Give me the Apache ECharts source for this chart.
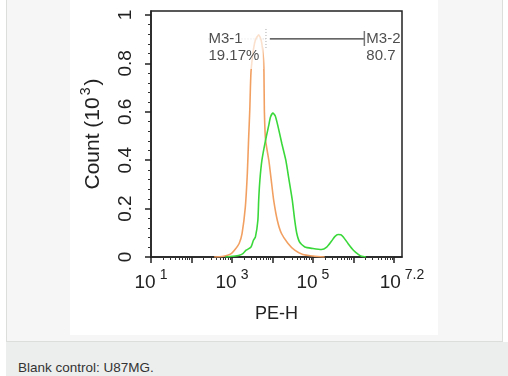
<!DOCTYPE html>
<html>
<head>
<meta charset="utf-8">
<script src="https://cdn.jsdelivr.net/npm/echarts@6/dist/echarts.min.js"></script>
<style>
  body { margin: 0; background: #fff; }
  .page { position: relative; width: 508px; height: 376px; overflow: hidden; font-family: "Liberation Sans", Arial, sans-serif; }
  .panel { position: absolute; left: 6px; top: 0; width: 495px; height: 341px; background: #f5f6f5; border-left: 1px solid #dcdedc; border-right: 1px solid #dcdedc; border-bottom: 1px solid #dcdedc; }
  .caption { position: absolute; left: 6px; top: 342px; right: 0; height: 34px; background: #eceeed; }
  .caption span { position: absolute; left: 12px; top: 18px; font-size: 13.5px; color: #333; }
  #chart { position: absolute; left: 70px; top: 0; width: 368px; height: 335px; background: #fff; }
</style>
</head>
<body>
<div class="page">
  <div class="panel"></div>
  <div id="chart"></div>
  <div class="caption"><span>Blank control: U87MG.</span></div>
</div>
<script>
// x values are log10(PE-H), y values are Count (10^3)
const orangeLog = [2.56, 2.76, 2.89, 2.99, 3.08, 3.18, 3.25, 3.33, 3.38, 3.41, 3.44, 3.47, 3.53, 3.58, 3.66, 3.72, 3.77, 3.79, 3.80, 3.83, 3.91, 3.97, 4.03, 4.12, 4.22, 4.38, 4.55, 4.75, 5.00, 5.29]
const orangeCount = [0, 0.002, 0.007, 0.015, 0.032, 0.057, 0.098, 0.206, 0.347, 0.483, 0.607, 0.765, 0.856, 0.897, 0.918, 0.897, 0.835, 0.765, 0.607, 0.483, 0.400, 0.318, 0.235, 0.152, 0.098, 0.057, 0.028, 0.010, 0.004, 0]
const greenLog = [2.84, 3.02, 3.18, 3.27, 3.35, 3.47, 3.53, 3.58, 3.64, 3.66, 3.69, 3.74, 3.83, 3.91, 3.95, 4.01, 4.07, 4.13, 4.23, 4.33, 4.41, 4.49, 4.55, 4.60, 4.67, 4.80, 5.00, 5.21, 5.34, 5.46, 5.54, 5.62, 5.69, 5.75, 5.87, 6.00, 6.12, 6.20, 6.31]
const greenCount = [0, 0.003, 0.007, 0.014, 0.028, 0.041, 0.069, 0.083, 0.152, 0.235, 0.318, 0.400, 0.483, 0.545, 0.578, 0.595, 0.583, 0.545, 0.470, 0.400, 0.318, 0.235, 0.152, 0.098, 0.062, 0.041, 0.035, 0.031, 0.041, 0.066, 0.084, 0.093, 0.092, 0.083, 0.055, 0.028, 0.011, 0.003, 0]

// gates: [start, end] in log10 units, shared height in count units
const gateNames = ['M3-1', 'M3-2']
const gatePercents = ['19.17%', '80.76%']
const gateStart = [2.42, 3.935]
const gateEnd = [3.84, 6.27]
const gateLevel = 0.901

const xLabelValues = [1, 3, 5, 7.2]
const xMajorTicks = [1, 2, 3, 4, 5, 6, 7]
const yLabelValues = [0, 0.2, 0.4, 0.6, 0.8, 1]

const xMinorTicks = []
for (let n = 1; n <= 7; n++) {
  for (let k = 2; k <= 9; k++) {
    const v = n + Math.log10(k)
    if (v < 7.2) xMinorTicks.push(v)
  }
}
const yMinorTicks = []
for (let i = 1; i < 25; i++) {
  if (i % 5 !== 0) yMinorTicks.push(i * 0.04)
}

const font = 'Liberation Sans, Arial, sans-serif'
const X_MIN = 1
const X_MAX = 7.2
const Y_MAX = 1.0166

const chart = echarts.init(document.getElementById('chart'))

const zipPairs = (xs, ys) => xs.map((x, i) => [x, ys[i]])

chart.setOption({
  animation: false,
  grid: {
    left: 81, right: 36, top: 11, bottom: 78,
    show: true, borderColor: '#222', borderWidth: 1.5, backgroundColor: 'transparent'
  },
  xAxis: [
    {
      type: 'value', min: X_MIN, max: X_MAX, position: 'bottom',
      splitLine: { show: false },
      axisLine: { lineStyle: { color: '#222', width: 1.5 } },
      axisTick: { customValues: xMajorTicks, length: 6, lineStyle: { color: '#222', width: 1.5 } },
      axisLabel: {
        customValues: xLabelValues, margin: 11, color: '#222', fontFamily: font,
        formatter: v => '{b|10}{s|' + (Math.round(v * 10) / 10) + '}',
        rich: {
          b: { fontSize: 19, lineHeight: 24, verticalAlign: 'bottom', fontFamily: font, color: '#222' },
          s: { fontSize: 14, lineHeight: 14, verticalAlign: 'top', fontFamily: font, color: '#222', padding: [0, 0, 0, 4] }
        }
      },
      name: 'PE-H', nameLocation: 'middle', nameGap: 48,
      nameTextStyle: { fontSize: 18, color: '#222', fontFamily: font }
    },
    {
      type: 'value', min: X_MIN, max: X_MAX, position: 'bottom', offset: 0,
      splitLine: { show: false }, axisLine: { show: false }, axisLabel: { show: false },
      axisTick: { customValues: xMinorTicks, length: 3, lineStyle: { color: '#333', width: 1 } }
    }
  ],
  yAxis: [
    {
      type: 'value', min: 0, max: Y_MAX, position: 'left',
      splitLine: { show: false },
      axisLine: { show: true, lineStyle: { color: '#222', width: 1.5 } },
      axisTick: { customValues: yLabelValues, length: 6, lineStyle: { color: '#222', width: 1.5 } },
      axisLabel: { customValues: yLabelValues, rotate: 90, margin: 16, fontSize: 19, color: '#222', fontFamily: font },
      name: '{a|Count (10}{s|3}{a|)}', nameLocation: 'middle', nameRotate: 90, nameGap: 47,
      nameTextStyle: {
        rich: {
          a: { fontSize: 21, lineHeight: 25, verticalAlign: 'bottom', fontFamily: font, color: '#222' },
          s: { fontSize: 14, lineHeight: 14, verticalAlign: 'top', fontFamily: font, color: '#222', padding: [0, 2] }
        }
      }
    },
    {
      type: 'value', min: 0, max: Y_MAX, position: 'left', offset: 0,
      splitLine: { show: false }, axisLine: { show: false }, axisLabel: { show: false },
      axisTick: { customValues: yMinorTicks, length: 3, lineStyle: { color: '#333', width: 1 } }
    }
  ],
  series: [
    {
      name: 'control', type: 'line', data: zipPairs(orangeLog, orangeCount),
      symbol: 'none', smooth: 0.2, clip: true, z: 2,
      lineStyle: { color: '#f2a062', width: 1.6 }
    },
    {
      name: 'sample', type: 'line', data: zipPairs(greenLog, greenCount),
      symbol: 'none', smooth: 0.2, clip: true, z: 2,
      lineStyle: { color: '#3ad83a', width: 1.6 }
    },
    {
      name: 'gates', type: 'custom', z: 3,
      data: gateNames.map((n, i) => [gateStart[i], gateEnd[i], gateLevel, i]),
      renderItem: (params, api) => {
        const a = api.coord([api.value(0), api.value(2)])
        const b = api.coord([api.value(1), api.value(2)])
        const first = api.value(3) === 0
        const style = first
          ? { stroke: '#aaa', lineWidth: 1, lineDash: [1, 2] }
          : { stroke: '#333', lineWidth: 1.2 }
        return {
          type: 'group',
          children: [
            { type: 'line', shape: { x1: a[0], y1: a[1], x2: b[0], y2: b[1] }, style: style },
            { type: 'line', shape: { x1: b[0], y1: b[1] - (first ? 10 : 8), x2: b[0], y2: b[1] + (first ? 11 : 7) }, style: first ? style : { stroke: '#777', lineWidth: 1.5 } }
          ]
        }
      }
    },
    {
      name: 'gateLabels', type: 'scatter', z: 5, symbolSize: 0, silent: true,
      data: gateNames.map((n, i) => ({
        value: [i === 0 ? gateStart[i] : gateEnd[i], gateLevel],
        label: i === 0
          ? { position: [0, -11], backgroundColor: 'rgba(255,255,255,0.85)', padding: [2, 4, 5, 0] }
          : { position: [2, -9], width: 37, overflow: 'truncate', ellipsis: '' }
      })),
      label: {
        show: true, align: 'left', verticalAlign: 'top',
        fontSize: 15, lineHeight: 17, color: '#222', fontFamily: font,
        formatter: p => gateNames[p.dataIndex] + '\n' + gatePercents[p.dataIndex]
      }
    }
  ]
})
</script>
</body>
</html>
